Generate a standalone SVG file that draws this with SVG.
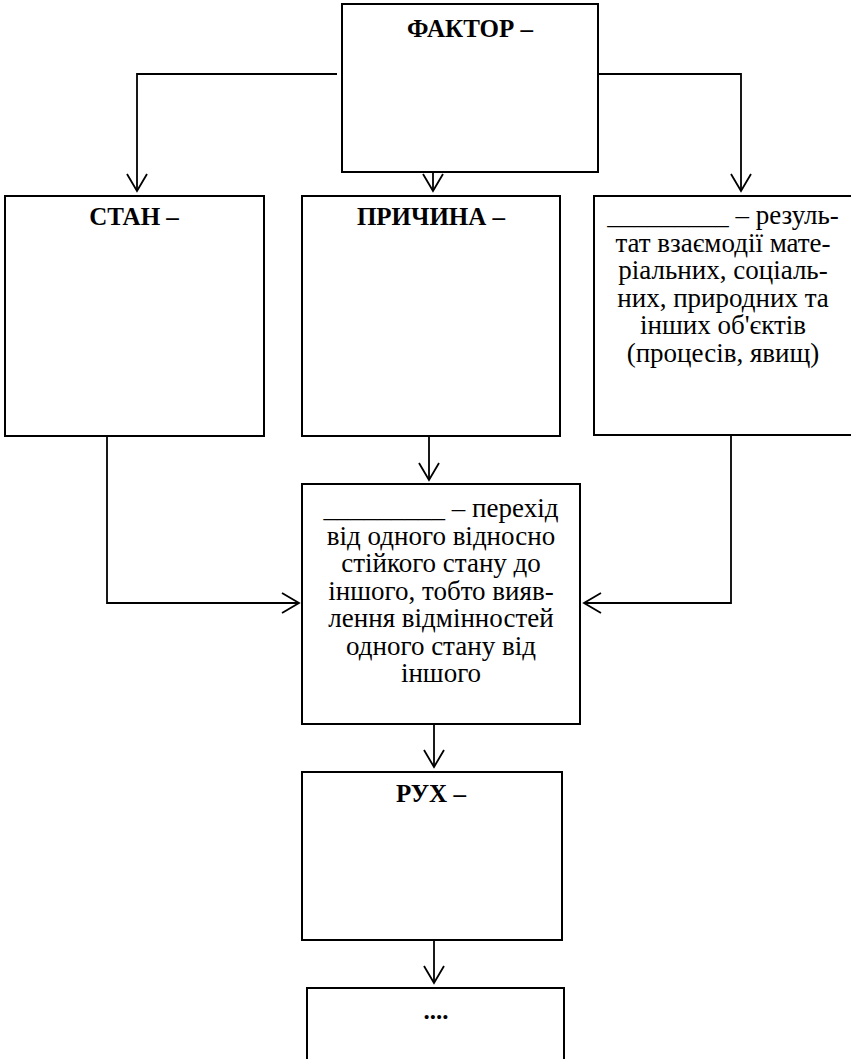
<svg xmlns="http://www.w3.org/2000/svg" width="851" height="1059" viewBox="0 0 851 1059">
<style>
.box{fill:#fff;stroke:#000;stroke-width:2}
.ln{fill:none;stroke:#000;stroke-width:1.8}
.b{font-family:"Liberation Serif",serif;font-weight:bold;font-size:25px;text-anchor:middle;fill:#000}
.t{font-family:"Liberation Serif",serif;font-size:27px;text-anchor:middle;fill:#000}
</style>
<defs>
<marker id="ah" markerUnits="userSpaceOnUse" markerWidth="24" markerHeight="24" viewBox="-20 -12 24 24" refX="0" refY="0" orient="auto">
<path d="M-17,-10 L0,0 L-17,10" fill="none" stroke="#000" stroke-width="1.8"/>
</marker>
</defs>
<rect width="851" height="1059" fill="#fff"/>
<g id="connectors">
<path class="ln" d="M337,74 H137 V191" marker-end="url(#ah)"/>
<path class="ln" d="M594,74 H741 V191" marker-end="url(#ah)"/>
<path class="ln" d="M433,172 V191" marker-end="url(#ah)"/>
<path class="ln" d="M107,436 V603 H299" marker-end="url(#ah)"/>
<path class="ln" d="M731,435 V603 H584" marker-end="url(#ah)"/>
<path class="ln" d="M429,436 V480" marker-end="url(#ah)"/>
<path class="ln" d="M434,724 V767" marker-end="url(#ah)"/>
<path class="ln" d="M434,940 V983" marker-end="url(#ah)"/>
</g>
<g id="faktor">
<rect class="box" x="342" y="4" width="256" height="168"/>
<text class="b" x="470" y="37">ФАКТОР –</text>
</g>
<g id="stan">
<rect class="box" x="5" y="196" width="259" height="240"/>
<text class="b" x="134" y="225">СТАН –</text>
</g>
<g id="prychyna">
<rect class="box" x="302" y="196" width="258" height="240"/>
<text class="b" x="431" y="225">ПРИЧИНА –</text>
</g>
<g id="rezultat">
<rect class="box" x="594" y="196" width="258" height="239"/>
<text class="t" x="723" y="224">_________ – резуль-</text>
<text class="t" x="723" y="251.5">тат взаємодії мате-</text>
<text class="t" x="723" y="279">ріальних, соціаль-</text>
<text class="t" x="723" y="306.5">них, природних та</text>
<text class="t" x="723" y="334">інших об'єктів</text>
<text class="t" x="723" y="361.5">(процесів, явищ)</text>
</g>
<g id="zmina">
<rect class="box" x="302" y="484" width="278" height="240"/>
<text class="t" x="441" y="517">_________ – перехід</text>
<text class="t" x="441" y="544.5">від одного відносно</text>
<text class="t" x="441" y="572">стійкого стану до</text>
<text class="t" x="441" y="599.5">іншого, тобто вияв-</text>
<text class="t" x="441" y="627">лення відмінностей</text>
<text class="t" x="441" y="654.5">одного стану від</text>
<text class="t" x="441" y="682">іншого</text>
</g>
<g id="rukh">
<rect class="box" x="302" y="772" width="260" height="168"/>
<text class="b" x="431" y="802">РУХ –</text>
</g>
<g id="dali">
<rect class="box" x="307" y="988" width="257" height="80"/>
<text class="b" x="436" y="1019" font-size="20">....</text>
</g>
</svg>
